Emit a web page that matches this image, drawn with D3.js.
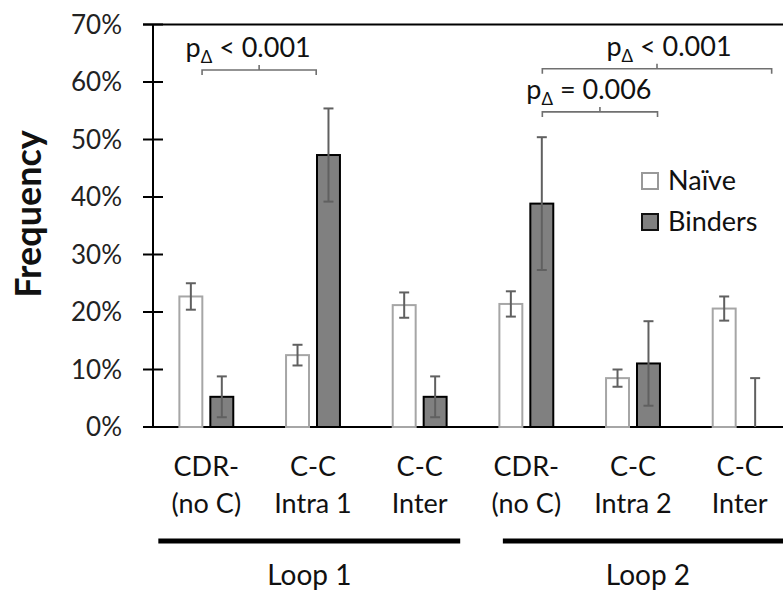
<!DOCTYPE html>
<html>
<head>
<meta charset="utf-8">
<script src="https://cdn.jsdelivr.net/npm/d3@7"></script>
<style>
  body { margin: 0; background: #fff; }
  svg { display: block; font-family: Lato, "Open Sans", sans-serif; }
</style>
</head>
<body>
<script>
// данные (проценты)
const categories = [["CDR-", "(no C)"], ["C-C", "Intra 1"], ["C-C", "Inter"],
                    ["CDR-", "(no C)"], ["C-C", "Intra 2"], ["C-C", "Inter"]];
const seriesNames = ["Naïve", "Binders"];
const naive      = [22.7, 12.5, 21.2, 21.4, 8.5, 20.6];
const naiveErr   = [2.3, 1.8, 2.2, 2.2, 1.5, 2.1];
const binders    = [5.25, 47.3, 5.25, 38.85, 11.05, 0];
const bindersErr = [3.55, 8.1, 3.55, 11.55, 7.35, 8.5];
const yTicks = [0, 10, 20, 30, 40, 50, 60, 70];
const loops = [
    {name: "Loop 1", from: 0, f0: 0.05, to: 2, f1: 0.88},
    {name: "Loop 2", from: 3, f0: 0.28, to: 5, f1: 1.0}
];
// скобки значимости: концы в долях полосы категории, уровень в процентах
const brackets = [
    {from: 0, f0: 0.46, to: 1, f1: 0.53, level: 62.1, sign: "<", p: "0.001", dx: -11},
    {from: 3, f0: 0.65, to: 5, f1: 0.80, level: 62.3, sign: "<", p: "0.001", dx: 12},
    {from: 3, f0: 0.65, to: 4, f1: 0.73, level: 54.8, sign: "=", p: "0.006", dx: -11}
];

const W = 783, H = 591;
const svg = d3.select("body").append("svg")
    .attr("width", W).attr("height", H);

const y = d3.scaleLinear().domain([0, 70]).range([427, 24.5]);
const x = d3.scaleBand().domain(d3.range(categories.length)).range([153, 793]);
const xs = d3.scaleBand().domain(seriesNames).range([0, x.bandwidth()])
    .paddingInner(0.194).paddingOuter(0.82);
const pos = (i, f) => x(i) + f * x.bandwidth();

// верхняя линия и ось X
svg.append("line").attr("x1", 143).attr("x2", W)
    .attr("y1", y(70)).attr("y2", y(70))
    .attr("stroke", "#000").attr("stroke-width", 2);
svg.append("line").attr("x1", 143).attr("x2", W)
    .attr("y1", y(0)).attr("y2", y(0))
    .attr("stroke", "#000").attr("stroke-width", 2);

// ось Y
svg.append("line").attr("x1", 153).attr("x2", 153)
    .attr("y1", y(70)).attr("y2", y(0))
    .attr("stroke", "#000").attr("stroke-width", 2);
svg.append("g").selectAll("line").data(yTicks).enter().append("line")
    .attr("x1", 143).attr("x2", 163)
    .attr("y1", d => y(d)).attr("y2", d => y(d))
    .attr("stroke", "#000").attr("stroke-width", 2);
svg.append("g").selectAll("text").data(yTicks).enter().append("text")
    .attr("x", 122).attr("y", d => y(d))
    .attr("dy", "0.36em").attr("text-anchor", "end")
    .attr("font-size", 26).attr("fill", "#222")
    .text(d => d + "%");

svg.append("text")
    .attr("transform", "translate(41," + 214 + ") rotate(-90)")
    .attr("text-anchor", "middle")
    .attr("font-size", 36).attr("font-weight", "bold").attr("fill", "#111")
    .text("Frequency");

// столбцы
const bars = svg.append("g");
bars.selectAll(".naive").data(naive).enter().append("rect")
    .attr("x", (d, i) => x(i) + xs("Naïve") + 1)
    .attr("width", xs.bandwidth() - 2)
    .attr("y", d => y(d))
    .attr("height", d => y(0) - y(d))
    .attr("fill", "#fff").attr("stroke", "#a6a6a6").attr("stroke-width", 2);
bars.selectAll(".bind").data(binders).enter().append("rect")
    .attr("x", (d, i) => x(i) + xs("Binders") + 1)
    .attr("width", xs.bandwidth() - 2)
    .attr("y", d => y(d))
    .attr("height", d => y(0) - y(d))
    .attr("fill", "#808080").attr("stroke", "#000").attr("stroke-width", 2)
    .attr("visibility", d => d > 0 ? "visible" : "hidden");

// планки погрешностей
function errorBars(vals, errs, name) {
    const g = svg.append("g").attr("stroke", "#606060").attr("stroke-width", 2);
    vals.forEach(function(v, i) {
        const cx = x(i) + xs(name) + xs.bandwidth() / 2;
        const hi = v + errs[i], lo = Math.max(0, v - errs[i]);
        g.append("line").attr("x1", cx).attr("x2", cx)
            .attr("y1", y(hi)).attr("y2", y(lo));
        g.append("line").attr("x1", cx - 5).attr("x2", cx + 5)
            .attr("y1", y(hi)).attr("y2", y(hi));
        if (v - errs[i] > 0) {
            g.append("line").attr("x1", cx - 5).attr("x2", cx + 5)
                .attr("y1", y(lo)).attr("y2", y(lo));
        }
    });
}
errorBars(naive, naiveErr, "Naïve");
errorBars(binders, bindersErr, "Binders");

// подписи категорий
const cat = svg.append("g").selectAll("text").data(categories).enter().append("text")
    .attr("text-anchor", "middle").attr("font-size", 27).attr("fill", "#111");
cat.append("tspan")
    .attr("x", (d, i) => x(i) + x.bandwidth() / 2).attr("y", 476)
    .text(d => d[0]);
cat.append("tspan")
    .attr("x", (d, i) => x(i) + x.bandwidth() / 2).attr("y", 513)
    .text(d => d[1]);

// линии Loop
loops.forEach(function(l) {
    const x1 = pos(l.from, l.f0), x2 = pos(l.to, l.f1);
    svg.append("line").attr("x1", x1).attr("x2", x2)
        .attr("y1", 541).attr("y2", 541)
        .attr("stroke", "#000").attr("stroke-width", 5);
    svg.append("text").attr("x", (x1 + x2) / 2).attr("y", 585)
        .attr("text-anchor", "middle").attr("font-size", 28).attr("fill", "#111")
        .text(l.name);
});

// скобки
brackets.forEach(function(b) {
    const x1 = pos(b.from, b.f0), x2 = pos(b.to, b.f1), yy = y(b.level);
    const mx = (x1 + x2) / 2;
    svg.append("path")
        .attr("d", "M" + x1 + "," + (yy + 5) + "V" + yy + "H" + x2 + "V" + (yy + 5)
            + "M" + mx + "," + yy + "V" + (yy - 5))
        .attr("fill", "none").attr("stroke", "#707070").attr("stroke-width", 1.6);
    const t = svg.append("text").attr("x", mx + b.dx).attr("y", yy - 13)
        .attr("text-anchor", "middle").attr("font-size", 27).attr("fill", "#111");
    t.append("tspan").text("p");
    t.append("tspan").attr("font-size", 17).attr("dy", 6).text("Δ");
    t.append("tspan").attr("dy", -6).text(" " + b.sign + " " + b.p);
});

// легенда
const legend = svg.append("g").selectAll("g").data(seriesNames).enter().append("g")
    .attr("transform", (d, i) => "translate(642," + (173 + i * 41) + ")");
legend.append("rect").attr("width", 16).attr("height", 16)
    .attr("fill", (d, i) => i ? "#808080" : "#fff")
    .attr("stroke", (d, i) => i ? "#111" : "#999").attr("stroke-width", 2);
legend.append("text").attr("x", 26).attr("y", 17)
    .attr("font-size", 27).attr("fill", "#111")
    .text(d => d);
</script>
</body>
</html>
